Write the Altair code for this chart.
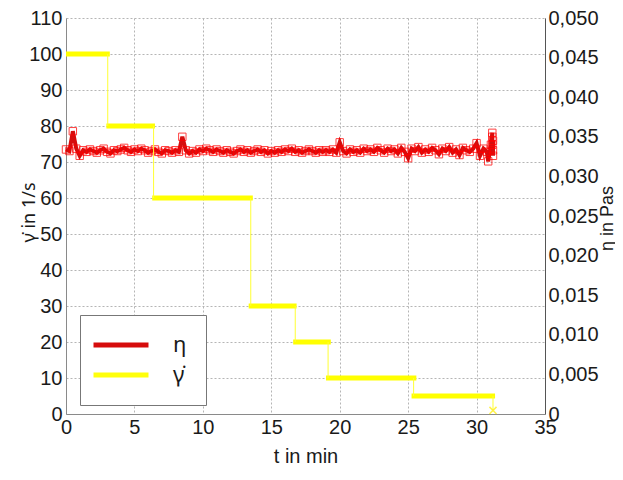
import altair as alt
import pandas as pd

# viscosity eta (Pas) vs time (min)
eta_t = [0.0, 0.25, 0.5, 0.75, 1.0, 1.25, 1.5, 1.75, 2.0, 2.25, 2.5, 2.75, 3.0, 3.25, 3.5, 3.75,
         4.0, 4.25, 4.5, 4.75, 5.0, 5.25, 5.5, 5.75, 6.0, 6.25, 6.5, 6.75, 7.0, 7.25, 7.5, 7.75,
         8.0, 8.25, 8.5, 8.75, 9.0, 9.25, 9.5, 9.75, 10.0, 10.25, 10.5, 10.75, 11.0, 11.25, 11.5,
         11.75, 12.0, 12.25, 12.5, 12.75, 13.0, 13.25, 13.5, 13.75, 14.0, 14.25, 14.5, 14.75, 15.0,
         15.25, 15.5, 15.75, 16.0, 16.25, 16.5, 16.75, 17.0, 17.25, 17.5, 17.75, 18.0, 18.25, 18.5,
         18.75, 19.0, 19.25, 19.5, 19.75, 20.0, 20.25, 20.5, 20.75, 21.0, 21.25, 21.5, 21.75, 22.0,
         22.25, 22.5, 22.75, 23.0, 23.25, 23.5, 23.75, 24.0, 24.25, 24.5, 24.75, 25.0, 25.25, 25.5,
         25.75, 26.0, 26.25, 26.5, 26.75, 27.0, 27.25, 27.5, 27.75, 28.0, 28.25, 28.5, 28.75, 29.0,
         29.25, 29.5, 29.75, 30.0, 30.25, 30.5, 30.75, 30.85, 31.05, 31.15, 31.15, 31.2, 31.2, 31.2,
         31.15]
eta_pas = [0.0334, 0.0332, 0.0357, 0.0335, 0.0326, 0.0333, 0.0331, 0.0334, 0.0332, 0.0330,
           0.0333, 0.0335, 0.0331, 0.0329, 0.0333, 0.0332, 0.0334, 0.0336, 0.0333, 0.0331,
           0.0334, 0.0332, 0.0335, 0.0333, 0.0330, 0.0332, 0.0334, 0.0331, 0.0329, 0.0333,
           0.0332, 0.0330, 0.0333, 0.0331, 0.0350, 0.0333, 0.0329, 0.0332, 0.0330, 0.0334,
           0.0332, 0.0335, 0.0333, 0.0331, 0.0334, 0.0332, 0.0330, 0.0333, 0.0331, 0.0329,
           0.0332, 0.0334, 0.0331, 0.0333, 0.0330, 0.0332, 0.0334, 0.0331, 0.0333, 0.0329,
           0.0332, 0.0330, 0.0333, 0.0331, 0.0334, 0.0332, 0.0335, 0.0331, 0.0333, 0.0330,
           0.0332, 0.0334, 0.0332, 0.0330, 0.0333, 0.0331, 0.0333, 0.0331, 0.0334, 0.0330,
           0.0343, 0.0332, 0.0329, 0.0334, 0.0331, 0.0333, 0.0330, 0.0335, 0.0332, 0.0334,
           0.0331, 0.0336, 0.0333, 0.0330, 0.0335, 0.0332, 0.0334, 0.0329, 0.0336, 0.0331,
           0.0323, 0.0335, 0.0332, 0.0337, 0.0330, 0.0334, 0.0331, 0.0336, 0.0333, 0.0328,
           0.0335, 0.0332, 0.0337, 0.0330, 0.0334, 0.0327, 0.0336, 0.0333, 0.0331, 0.0335,
           0.0342, 0.0326, 0.0335, 0.0331, 0.0319, 0.0340, 0.0355, 0.0350, 0.0345, 0.0333,
           0.0326, 0.0340]

# shear rate steps (1/s)
seg_start = [0.0, 2.95, 6.3, 13.35, 16.6, 19.0, 25.25]
seg_end = [3.2, 6.5, 13.65, 16.85, 19.35, 25.6, 31.35]
seg_rate = [100, 80, 60, 30, 20, 10, 5]

conn_t = [3.05, 6.4, 13.5, 16.75, 19.15, 25.4, 31.2]
conn_from = [100, 80, 60, 30, 20, 10, 5]
conn_to = [80, 60, 30, 20, 10, 5, 1]

end_t = [31.2]
end_rate = [1]

x_ticks = [0, 5, 10, 15, 20, 25, 30, 35]
left_ticks = [0, 10, 20, 30, 40, 50, 60, 70, 80, 90, 100, 110]
right_ticks = [0, 0.005, 0.01, 0.015, 0.02, 0.025, 0.03, 0.035, 0.04, 0.045, 0.05]

ETA = "η"
GAM = "γ̇"

eta_df = pd.DataFrame({"t": eta_t, "eta": eta_pas, "series": ETA})
seg_df = pd.DataFrame({"t0": seg_start, "t1": seg_end, "rate": seg_rate, "series": GAM})
conn_df = pd.DataFrame({"t": conn_t, "r0": conn_from, "r1": conn_to})
end_df = pd.DataFrame({"t": end_t, "rate": end_rate})

FONT = "Liberation Sans"
GFONT = "Noto Sans"
TXT = "#1a1a1a"
GRID = "#b5b5b5"
DOM = "#8a8a8a"

x_axis = alt.Axis(values=x_ticks, title="t in min", grid=True, gridDash=[2, 2], gridColor=GRID,
                  domainColor=DOM, ticks=False, labelPadding=3, labelFontSize=20,
                  titleFontSize=20, titlePadding=9, labelFlush=False)
x_scale = alt.Scale(domain=[0, 35], nice=False)

left_axis = alt.Axis(values=left_ticks, title="γ̇ in 1/s", orient="left", grid=True,
                     gridDash=[2, 2], gridColor=GRID, domainColor=DOM, ticks=False,
                     labelPadding=4, labelFontSize=20, titleFontSize=18, titleFont=GFONT,
                     titleAngle=270, titleBaseline="alphabetic", titleX=-32, titleY=194,
                     labelFlush=False)
left_scale = alt.Scale(domain=[0, 110], nice=False)

right_axis = alt.Axis(values=right_ticks, title="η in Pas", orient="right", grid=False,
                      domainColor="#555555", ticks=False, labelPadding=3, labelFontSize=20,
                      titleFontSize=18, titleAngle=270, titleBaseline="alphabetic",
                      titleX=67, titleY=200, labelFlush=False,
                      labelExpr="datum.value == 0 ? '0' : replace(format(datum.value, '.3f'), '.', ',')")
right_scale = alt.Scale(domain=[0, 0.05], nice=False)

color_scale = alt.Scale(domain=[ETA, GAM], range=["#d40000", "#ffff00"])
legend = alt.Legend(title=None, orient="none", legendX=14, legendY=297, fillColor="white",
                    strokeColor="#777777", padding=19, symbolType="M-4,0H4",
                    symbolSize=189, symbolStrokeWidth=5, symbolOffset=11,
                    labelFont=GFONT, labelFontSize=22, labelOffset=41, rowPadding=8)

eta_line = alt.Chart(eta_df).mark_line(strokeWidth=4, opacity=0.95).encode(
    x=alt.X("t:Q", scale=x_scale, axis=x_axis),
    y=alt.Y("eta:Q", scale=right_scale, axis=right_axis),
    color=alt.Color("series:N", scale=color_scale, legend=legend),
)
eta_pts = alt.Chart(eta_df).mark_point(shape="square", filled=False, size=55, color="#ff0000",
                                       strokeWidth=1, opacity=0.75).encode(
    x=alt.X("t:Q", scale=x_scale, axis=x_axis),
    y=alt.Y("eta:Q", scale=right_scale, axis=right_axis),
)
right_layer = alt.layer(eta_line, eta_pts)

seg = alt.Chart(seg_df).mark_rule(strokeWidth=5).encode(
    x=alt.X("t0:Q", scale=x_scale, axis=x_axis),
    x2="t1:Q",
    y=alt.Y("rate:Q", scale=left_scale, axis=left_axis),
    color=alt.Color("series:N", scale=color_scale, legend=legend),
)
conn = alt.Chart(conn_df).mark_rule(strokeWidth=1, color="#ffff33").encode(
    x=alt.X("t:Q", scale=x_scale, axis=x_axis),
    y=alt.Y("r0:Q", scale=left_scale, axis=left_axis),
    y2="r1:Q",
)
endp = alt.Chart(end_df).mark_point(shape="M-1,-1L1,1M1,-1L-1,1", size=50, filled=False,
                                    color="#ffee00", strokeWidth=1.5).encode(
    x=alt.X("t:Q", scale=x_scale, axis=x_axis),
    y=alt.Y("rate:Q", scale=left_scale, axis=left_axis),
)
left_layer = alt.layer(seg, conn, endp)

chart = alt.layer(right_layer, left_layer).resolve_scale(y="independent").properties(
    width=479, height=396,
    autosize=alt.AutoSizeParams(type="none"),
    padding={"left": 58, "top": 10, "right": 70, "bottom": 54},
).configure(font=FONT).configure_axis(
    labelColor=TXT, titleColor=TXT, titleFontWeight="normal", labelFont=FONT, titleFont=FONT
).configure_legend(labelColor=TXT, labelFont=FONT).configure_view(stroke=None)

chart.save("out.html", embed_options={"renderer": "svg", "actions": False})
